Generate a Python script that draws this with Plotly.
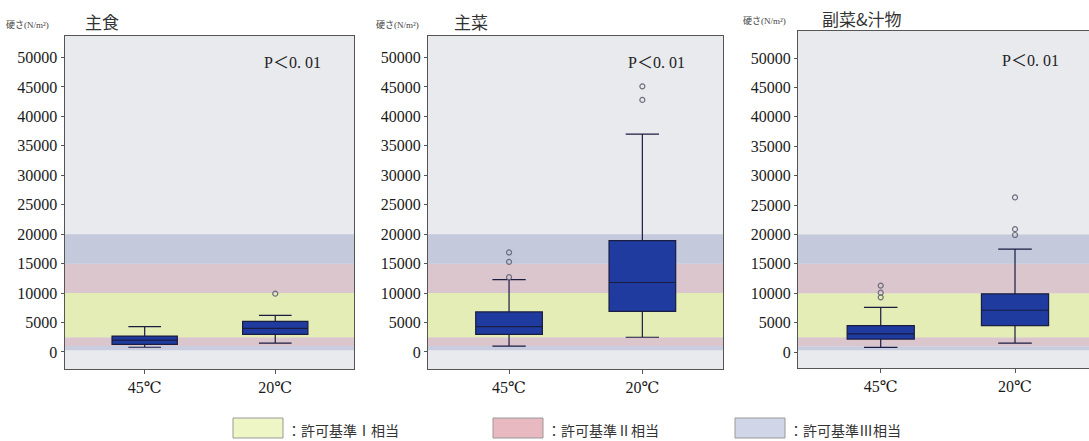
import plotly.graph_objects as go

W, H = 1089, 441

categories = ["45℃", "20℃"]
panel_titles = ["主食", "主菜", "副菜&汁物"]
y_label = "硬さ(N/m²)"
p_text = "P＜0. 01"

# box statistics per panel: [45℃, 20℃]
lower_fence = [[800, 1500], [1000, 2500], [800, 1500]]
q1_vals = [[1300, 3000], [3000, 6900], [2200, 4500]]
median_vals = [[2000, 4000], [4300, 11800], [3100, 7100]]
q3_vals = [[2700, 5200], [6800, 18900], [4500, 9900]]
upper_fence = [[4300, 6200], [12300, 37000], [7600, 17500]]

# outliers per panel
outlier_x = [["20℃"],
             ["45℃", "45℃", "45℃", "20℃", "20℃"],
             ["45℃", "45℃", "45℃", "20℃", "20℃", "20℃"]]
outlier_y = [[9900],
             [12700, 15300, 16900, 42800, 45100],
             [9300, 10100, 11300, 19900, 20900, 26300]]

# permit-standard bands (lower, upper)
band_ranges = [(300, 1000), (1000, 2500), (2500, 10000), (10000, 15000), (15000, 20000)]
band_colors = ["#c9cde0", "#dcc6cd", "#e4edb5", "#dcc6cd", "#c4c9dc"]

legend_labels = ["：許可基準Ⅰ相当", "：許可基準Ⅱ相当", "：許可基準Ⅲ相当"]
legend_colors = ["#eff6c6", "#e8b9c0", "#d0d5e8"]

y_ticks = list(range(0, 50001, 5000))

# layout geometry (pixels)
panels = [
    dict(x0=64.5, x1=354, y0=36, y1=369, xr=[-0.614, 1.603], yr=[-2890, 53650], tx=83, ty=22, lx=4, px=292, py=62),
    dict(x0=428, x1=723, y0=36, y1=369, xr=[-0.608, 1.605], yr=[-2890, 53650], tx=452, ty=22, lx=374, px=656, py=62),
    dict(x0=798, x1=1089, y0=31, y1=368, xr=[-0.616, 1.551], yr=[-2720, 54600], tx=820, ty=18, lx=741, px=1030, py=60),
]


def fx(px):
    return px / W


def fy(py):
    return 1 - py / H


fig = go.Figure()
serif = "Liberation Serif, DejaVu Serif, Noto Sans CJK JP, serif"
cjk = "Noto Sans CJK JP, sans-serif"

for i, p in enumerate(panels):
    ax = "" if i == 0 else str(i + 1)
    xa, ya = "x" + ax, "y" + ax
    fig.add_trace(go.Box(
        x=categories,
        q1=q1_vals[i], median=median_vals[i], q3=q3_vals[i],
        lowerfence=lower_fence[i], upperfence=upper_fence[i],
        width=0.5, whiskerwidth=0.5,
        fillcolor="#1f3b9f", line=dict(color="#1a1c40", width=1.2),
        boxpoints=False, showlegend=False, xaxis=xa, yaxis=ya,
    ))
    fig.add_trace(go.Scatter(
        x=outlier_x[i], y=outlier_y[i], mode="markers",
        marker=dict(symbol="circle-open", size=5, color="#6d6d7e", line=dict(width=1.2)),
        showlegend=False, xaxis=xa, yaxis=ya,
    ))
    fig.update_layout(**{
        ("xaxis" + ax): dict(
            domain=[fx(p["x0"]), fx(p["x1"])], anchor=ya, type="category",
            categoryorder="array", categoryarray=categories, range=p["xr"],
            showline=True, mirror=True, linecolor="#555", linewidth=1,
            ticks="outside", ticklen=4, tickcolor="#555", showgrid=False,
            tickfont=dict(family=serif, size=16, color="#1a1a1a"),
        ),
        ("yaxis" + ax): dict(
            domain=[fy(p["y1"]), fy(p["y0"])], anchor=xa, range=p["yr"],
            tickvals=y_ticks, ticktext=[str(v) for v in y_ticks],
            showline=True, mirror=True, linecolor="#555", linewidth=1,
            ticks="outside", ticklen=3, tickcolor="#555", showgrid=False, zeroline=False,
            tickfont=dict(family=serif, size=16, color="#1a1a1a"),
        ),
    })
    # bands
    for (lo, hi), col in zip(band_ranges, band_colors):
        fig.add_shape(type="rect", xref=xa + " domain", yref=ya, x0=0, x1=1, y0=lo, y1=hi,
                      fillcolor=col, line=dict(width=0), layer="below")
    # titles
    fig.add_annotation(x=fx(p["tx"]), y=fy(p["ty"]), xref="paper", yref="paper",
                       text=panel_titles[i], showarrow=False, xanchor="left", yanchor="middle",
                       font=dict(family=cjk, size=17, color="#333"))
    fig.add_annotation(x=fx(p["lx"]), y=fy(p["ty"] + 3), xref="paper", yref="paper",
                       text=y_label, showarrow=False, xanchor="left", yanchor="middle",
                       font=dict(family=serif, size=9, color="#444"))
    fig.add_annotation(x=fx(p["px"]), y=fy(p["py"]), xref="paper", yref="paper",
                       text=p_text, showarrow=False, xanchor="center", yanchor="middle",
                       font=dict(family=serif, size=16, color="#222"))

# legend
legend_x = [233, 493, 735]
for lx, lab, col in zip(legend_x, legend_labels, legend_colors):
    fig.add_shape(type="rect", xref="paper", yref="paper", x0=fx(lx), x1=fx(lx + 50),
                  y0=fy(438), y1=fy(418), fillcolor=col, line=dict(color="#999", width=1))
    fig.add_annotation(x=fx(lx + 52), y=fy(430), xref="paper", yref="paper", text=lab,
                       showarrow=False, xanchor="left", yanchor="middle",
                       font=dict(family=cjk, size=14, color="#333"))

fig.update_layout(
    width=W, height=H, margin=dict(l=0, r=0, t=0, b=0),
    paper_bgcolor="white", plot_bgcolor="#e8eaee",
    showlegend=False,
)

fig.write_html("out.html")
